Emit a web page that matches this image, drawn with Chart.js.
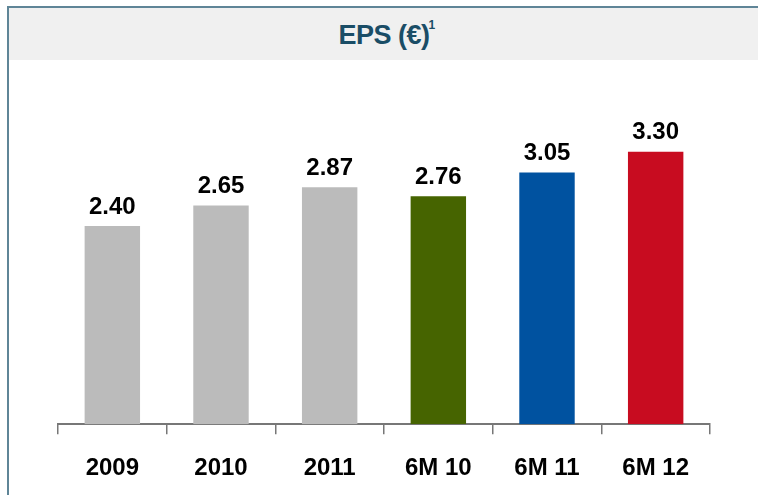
<!DOCTYPE html>
<html>
<head>
<meta charset="utf-8">
<script src="https://cdn.jsdelivr.net/npm/chart.js@4/dist/chart.umd.min.js"></script>
<style>
  html, body { margin:0; padding:0; background:#fff; overflow:hidden; }
  body { width:758px; height:495px; position:relative; font-family:"Liberation Sans", Arial, sans-serif; }
  .vline { position:absolute; left:7px; top:6px; width:2px; height:489px; background:#5f8597; }
  .hline { position:absolute; left:7px; top:6px; width:751px; height:2px; background:#5f8597; }
  .head { position:absolute; left:9px; top:8px; width:749px; height:52px; background:#f0f0f0; }
  .head h1 { margin:0; padding-left:6px; text-align:center; font-size:27px; font-weight:bold; line-height:54px; color:#1a4d66; letter-spacing:-0.5px; }
  .head h1 sup { font-size:12px; vertical-align:top; position:relative; top:-10px; margin-left:-1px; }
  .wrap { position:absolute; left:9px; top:60px; width:749px; height:457px; }
</style>
</head>
<body>
<div class="vline"></div>
<div class="hline"></div>
<div class="head"><h1>EPS (€)<sup>1</sup></h1></div>
<div class="wrap"><canvas id="eps"></canvas></div>
<script>
const categories = ["2009", "2010", "2011", "6M 10", "6M 11", "6M 12"];
const epsValues = [2.40, 2.65, 2.87, 2.76, 3.05, 3.30];
const barColors = ["#bbbbbb", "#bbbbbb", "#bbbbbb", "#466400", "#0052a0", "#c80c20"];

// value labels above the bars
const valueLabels = {
  id: 'valueLabels',
  afterDatasetsDraw(chart) {
    const ctx = chart.ctx;
    const meta = chart.getDatasetMeta(0);
    ctx.save();
    ctx.font = 'bold 24px "Liberation Sans", Arial, sans-serif';
    ctx.fillStyle = '#000';
    ctx.textAlign = 'center';
    ctx.textBaseline = 'middle';
    meta.data.forEach((bar, i) => {
      ctx.fillText(epsValues[i].toFixed(2), bar.x, bar.y - 19);
    });
    ctx.restore();
  }
};

new Chart(document.getElementById('eps'), {
  type: 'bar',
  data: {
    labels: categories,
    datasets: [{
      data: epsValues,
      backgroundColor: barColors,
      borderWidth: 0,
      barPercentage: 0.51,
      categoryPercentage: 1
    }]
  },
  options: {
    responsive: true,
    maintainAspectRatio: false,
    animation: false,
    layout: { padding: { left: 49, right: 48, top: 34, bottom: 14 } },
    plugins: { legend: { display: false }, tooltip: { enabled: false } },
    scales: {
      x: {
        grid: { display: true, offset: true, drawOnChartArea: false, drawTicks: true, tickLength: 10, color: '#777', lineWidth: 1.5 },
        border: { display: true, color: '#777', width: 2 },
        ticks: { color: '#000', padding: 20, font: { family: '"Liberation Sans", Arial, sans-serif', size: 24, weight: 'bold' } }
      },
      y: { display: false, min: 0, max: 4 }
    }
  },
  plugins: [valueLabels]
});
</script>
</body>
</html>
